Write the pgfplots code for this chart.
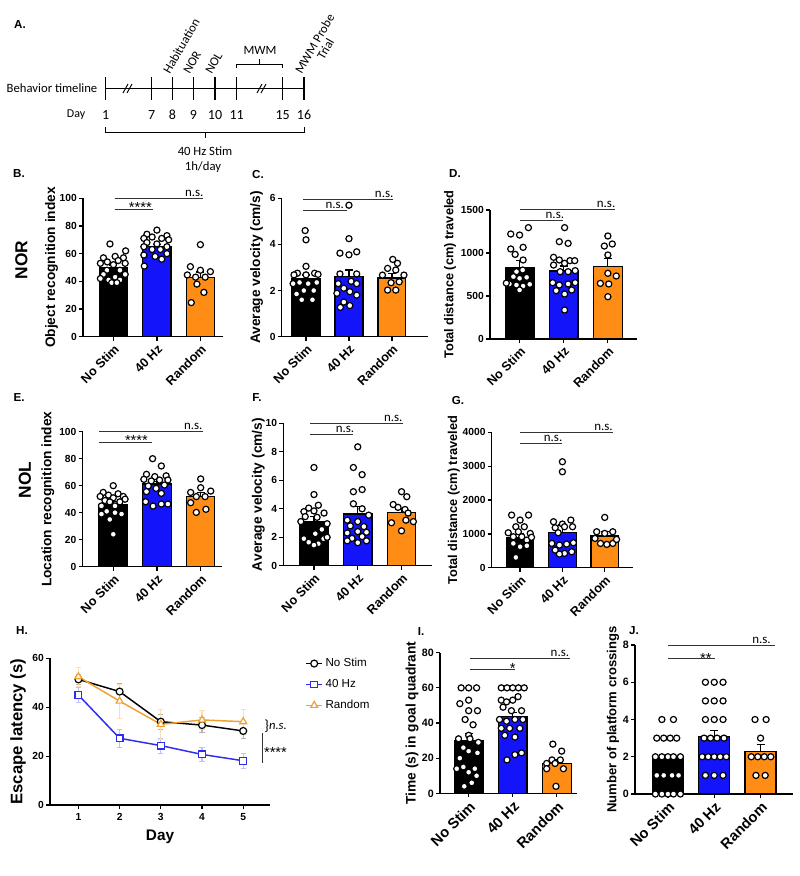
\documentclass[border=0pt]{standalone}
\usepackage{pgfplots}
\pgfplotsset{compat=1.18}
\usepackage{fontspec}
\setmainfont{Liberation Sans}
\newfontfamily\carlito{Carlito}
\definecolor{gblue}{RGB}{20,20,250}
\definecolor{gorange}{RGB}{255,140,20}
\definecolor{hblue}{RGB}{45,45,240}
\definecolor{horange}{RGB}{240,160,45}
\newcommand\nsfont{\carlito\fontsize{9.7}{10}\selectfont}
\newcommand\stfont{\fontsize{11}{12}\selectfont}
\tikzset{sig/.style={line width=0.6pt, black!80}}
\pgfplotsset{
  gp/.style={scale only axis, anchor=south west, clip=false,
    axis x line*=bottom, axis y line*=left,
    axis line style={-, line width=0.9pt, black},
    tick align=outside, major tick length=3pt,
    tick style={line width=0.9pt, black},
    ymin=0,
    /pgf/number format/assume math mode=true,
    /pgf/number format/1000 sep={},
    scaled y ticks=false,
    y tick label style={font=\bfseries\fontsize{7.7}{8}\selectfont, inner sep=1.5pt},
    ylabel style={font=\bfseries\fontsize{10.3}{11}\selectfont, anchor=center}},
  barax/.style={gp, xtick={0,1,2}, xticklabels={No Stim,40 Hz,Random},
    x tick label style={rotate=45, anchor=north east, font=\bfseries\fontsize{9.5}{10}\selectfont, inner sep=1.5pt}},
  gbar/.style={ybar, bar width=0.65, bar shift=0pt, draw=black, line width=0.9pt, fill=#1,
    error bars/y dir=plus, error bars/y explicit,
    error bars/error bar style={line width=0.9pt, black},
    error bars/error mark options={rotate=90, mark size=3pt, line width=0.9pt, black}},
  dots/.style={only marks, mark=*, mark size=2.3pt, mark options={fill=white, draw=black, line width=0.9pt}},
}
\begin{document}
\begin{tikzpicture}
\path[use as bounding box] (0,0) rectangle (600pt,-657pt);
% ---------------- panel A timeline and labels ----------------
\begin{scope}[x=0.75pt,y=-0.75pt]
\node[font=\bfseries\fontsize{8.7}{10}\selectfont] at (20,25) {A.};
\node[font=\bfseries\fontsize{8.7}{10}\selectfont] at (19,174) {B.};
\node[font=\bfseries\fontsize{8.7}{10}\selectfont] at (258,174) {C.};
\node[font=\bfseries\fontsize{8.7}{10}\selectfont] at (455,174) {D.};
\node[font=\bfseries\fontsize{8.7}{10}\selectfont] at (19,398) {E.};
\node[font=\bfseries\fontsize{8.7}{10}\selectfont] at (257,398) {F.};
\node[font=\bfseries\fontsize{8.7}{10}\selectfont] at (458,400) {G.};
\node[font=\bfseries\fontsize{8.7}{10}\selectfont] at (22,630) {H.};
\node[font=\bfseries\fontsize{8.7}{10}\selectfont] at (421,631) {I.};
\node[font=\bfseries\fontsize{8.7}{10}\selectfont] at (634,631) {J.};
\node[font=\bfseries\fontsize{13}{14}\selectfont, rotate=90] at (21.5,260) {NOR};
\node[font=\bfseries\fontsize{13}{14}\selectfont, rotate=90] at (25,480) {NOL};
\draw[line width=0.8pt] (105.7,88.3) -- (304,88.3);
\foreach \x in {105.7,151.7,172.3,193.3,215,236.7,282.7,304} \draw[line width=0.8pt] (\x,77) -- (\x,100);
\foreach \x in {128,262} {\draw[line width=0.7pt] (\x-5,93) -- (\x,84); \draw[line width=0.7pt] (\x-1,93) -- (\x+4,84);}
\node[anchor=east, font=\carlito\fontsize{9.5}{11}\selectfont] at (102,88.3) {Behavior timeline};
\node[anchor=east, font=\carlito\fontsize{9}{11}\selectfont] at (90,115) {Day};
\foreach \x/\d in {105.7/1,151.7/7,172.3/8,193.3/9,215/10,236.7/11,282.7/15,304/16}
  \node[font=\carlito\fontsize{10.5}{12}\selectfont] at (\x,115) {\d};
\draw[line width=0.7pt] (105.7,127) -- (105.7,132) -- (304,132) -- (304,127);
\draw[line width=0.7pt] (205,132) -- (205,138);
\node[font=\carlito\fontsize{9.5}{11}\selectfont] at (205,151) {40 Hz Stim};
\node[font=\carlito\fontsize{9.5}{11}\selectfont] at (203,167) {1h/day};
\draw[line width=0.7pt] (236.7,68) -- (236.7,64) -- (282.7,64) -- (282.7,68);
\draw[line width=0.7pt] (259.7,64) -- (259.7,59);
\node[font=\carlito\fontsize{9.5}{11}\selectfont] at (260,50) {MWM};
\node[rotate=60, anchor=south west, inner sep=0pt, font=\carlito\fontsize{9.5}{11}\selectfont] at (170,75) {Habituation};
\node[rotate=60, anchor=south west, inner sep=0pt, font=\carlito\fontsize{9.5}{11}\selectfont] at (190,75) {NOR};
\node[rotate=60, anchor=south west, inner sep=0pt, font=\carlito\fontsize{9.5}{11}\selectfont] at (212,75) {NOL};
\node[rotate=60, anchor=south west, inner sep=0pt, font=\carlito\fontsize{9.5}{11}\selectfont] at (302,75) {MWM Probe};
\node[rotate=60, anchor=south west, inner sep=0pt, font=\carlito\fontsize{9.5}{11}\selectfont] at (324,61) {Trial};
\end{scope}
% ---------------- B ----------------
\begin{axis}[barax, at={(62.25pt,-252.5pt)}, width=105pt, height=103.8pt,
  xmin=-0.70, xmax=2.52, ymax=100, ytick={0,20,...,100},
  ylabel={Object recognition index}, ylabel style={at={(axis description cs:-0.225,0.5)}}]
\addplot[gbar=black] coordinates {(0,50.1) +- (0,1.7)};
\addplot[gbar=gblue] coordinates {(1,65.0) +- (0,1.5)};
\addplot[gbar=gorange] coordinates {(2,42.7) +- (0,4.0)};
\addplot[dots] coordinates {(-0.08,67) (0.28,62) (-0.23,57) (0.04,58) (0.23,57) (-0.14,54) (0.11,55) (-0.3,53) (0,52) (0.27,53) (-0.15,48) (0.15,48) (-0.23,45) (0.04,43) (0.27,45) (-0.11,41) (0.15,41) (-0.04,39) (0.08,39) (-0.3,42)};
\addplot[dots] coordinates {(1.0,77) (0.77,74) (1.23,73) (0.89,72) (0.7,71) (1.11,71) (1.27,70) (0.77,68) (1.0,67) (0.7,65) (1.23,65) (0.89,63) (1.08,63) (0.7,59) (1.23,60) (0.96,58) (1.11,56) (0.71,51)};
\addplot[dots] coordinates {(2.0,66.5) (1.77,50.6) (2.0,48) (2.23,47) (1.7,44.6) (1.89,43) (2.11,43) (1.92,38) (2.08,32) (1.79,24.6)};
\draw[sig] (0.03,100) -- (2.07,100);
\node[font=\nsfont, anchor=south, inner sep=1pt] at (1.86,100) {n.s.};
\draw[sig] (0.03,92) -- (0.92,92);
\node[font=\stfont, anchor=base, inner sep=0pt] at (0.62,89.5) {****};
\end{axis}
% ---------------- C ----------------
\begin{axis}[barax, at={(211.3pt,-252.5pt)}, width=109.7pt, height=103.8pt,
  xmin=-0.565, xmax=2.84, ymax=6, ytick={0,2,4,6},
  ylabel={Average velocity (cm/s)}, ylabel style={at={(axis description cs:-0.171,0.5)}}]
\addplot[gbar=black] coordinates {(0,2.5) +- (0,0.17)};
\addplot[gbar=gblue] coordinates {(1,2.6) +- (0,0.29)};
\addplot[gbar=gorange] coordinates {(2,2.54) +- (0,0.2)};
\addplot[dots] coordinates {(-0.02,4.6) (0,4.2) (0,3.05) (-0.2,2.75) (0.2,2.75) (0,2.68) (-0.28,2.68) (0.28,2.7) (-0.15,2.35) (0.05,2.3) (0.25,2.35) (-0.3,2.3) (-0.05,2.0) (0.18,2.0) (-0.22,1.85) (-0.1,1.6) (0.15,1.6)};
\addplot[dots] coordinates {(1.0,5.7) (1.0,4.25) (0.79,3.62) (1.0,3.55) (1.18,3.68) (0.79,2.72) (1.18,2.72) (0.75,2.3) (1.05,2.4) (1.18,2.3) (0.88,2.1) (1.02,1.95) (0.72,1.88) (1.18,1.8) (0.88,1.5) (1.02,1.35) (0.8,1.27)};
\addplot[dots] coordinates {(2.02,3.35) (2.13,3.18) (1.9,2.96) (2.09,2.89) (2.28,2.67) (1.78,2.67) (1.98,2.34) (2.17,2.38) (1.9,2.02) (2.09,2.02)};
\draw[sig] (-0.06,5.97) -- (2.03,5.97);
\node[font=\nsfont, anchor=south, inner sep=1pt] at (1.82,5.97) {n.s.};
\draw[sig] (-0.06,5.49) -- (0.95,5.49);
\node[font=\nsfont, anchor=south, inner sep=1pt] at (0.67,5.49) {n.s.};
\end{axis}
% ---------------- D ----------------
\begin{axis}[barax, at={(367.5pt,-254.25pt)}, width=110.25pt, height=96.75pt,
  xmin=-0.67, xmax=2.66, ymax=1500, ytick={0,500,1000,1500},
  ylabel={Total distance (cm) traveled}, ylabel style={font=\bfseries\fontsize{9.6}{11}\selectfont, at={(axis description cs:-0.272,0.5)}}]
\addplot[gbar=black] coordinates {(0,833) +- (0,84)};
\addplot[gbar=gblue] coordinates {(1,791) +- (0,58)};
\addplot[gbar=gorange] coordinates {(2,841) +- (0,93)};
\addplot[dots] coordinates {(-0.2,1221) (0,1209) (0.2,1295) (-0.2,1047) (0.08,1066) (-0.1,984) (0.08,919) (-0.07,783) (0.07,802) (-0.14,725) (0,705) (0.16,717) (-0.23,640) (-0.07,628) (0.08,616) (0.23,636) (0,570) (-0.3,650)};
\addplot[dots] coordinates {(1.02,1295) (0.9,1132) (1.1,1112) (0.77,950) (0.9,919) (1.02,880) (1.14,911) (1.25,911) (0.77,860) (0.92,783) (1.1,783) (1.26,795) (0.75,655) (0.9,628) (1.1,640) (1.26,655) (0.83,562) (1.02,523) (1.18,570) (1.02,337)};
\addplot[dots] coordinates {(2.0,1198) (1.92,1081) (2.1,1105) (2.0,977) (2.0,764) (2.19,733) (1.83,647) (2.02,640) (2.0,492)};
\draw[sig] (0,1508) -- (2.16,1508);
\node[font=\nsfont, anchor=south, inner sep=1pt] at (1.96,1508) {n.s.};
\draw[sig] (0,1384) -- (0.98,1384);
\node[font=\nsfont, anchor=south, inner sep=1pt] at (0.8,1384) {n.s.};
\end{axis}
% ---------------- E ----------------
\begin{axis}[barax, at={(62pt,-425pt)}, width=104.25pt, height=101.25pt,
  xmin=-0.70, xmax=2.48, ymax=100, ytick={0,20,...,100},
  ylabel={Location recognition index}, ylabel style={at={(axis description cs:-0.25,0.5)}}]
\addplot[gbar=black] coordinates {(0,46.2) +- (0,1.8)};
\addplot[gbar=gblue] coordinates {(1,61.2) +- (0,2.0)};
\addplot[gbar=gorange] coordinates {(2,51.9) +- (0,3.0)};
\addplot[dots] coordinates {(0,60) (-0.23,55) (-0.11,53) (0.11,54) (0.23,52) (-0.3,52) (0,51) (-0.19,49) (0.15,48) (-0.08,48) (0.27,50) (-0.27,45) (0.04,45) (-0.15,41) (-0.27,39) (0.04,40) (0.19,39) (-0.08,35) (0,24)};
\addplot[dots] coordinates {(0.9,80) (1.1,74.6) (0.76,68.4) (0.95,66.7) (1.21,67.3) (0.7,64.7) (0.87,63.5) (1.06,64.2) (1.25,64.2) (0.8,59.8) (0.98,58) (1.17,60.5) (0.76,55.6) (1.1,54.3) (0.74,48.1) (0.91,44.9) (1.1,46.4) (1.25,46.4)};
\addplot[dots] coordinates {(2.0,65) (1.77,55) (2.0,58.5) (2.23,56) (1.9,51.9) (2.1,51.9) (1.77,47.4) (2.12,42.5) (1.9,40.2)};
\draw[sig] (-0.32,100) -- (2.05,100);
\node[font=\nsfont, anchor=south, inner sep=1pt] at (1.83,100) {n.s.};
\draw[sig] (-0.32,92.1) -- (0.88,92.1);
\node[font=\stfont, anchor=base, inner sep=0pt] at (0.53,89.5) {****};
\end{axis}
% ---------------- F ----------------
\begin{axis}[barax, at={(212.5pt,-424.3pt)}, width=111.3pt, height=106.8pt,
  xmin=-0.70, xmax=2.69, ymax=10, ytick={0,2,...,10},
  ylabel={Average velocity (cm/s)}, ylabel style={at={(axis description cs:-0.168,0.5)}}]
\addplot[gbar=black] coordinates {(0,3.09) +- (0,0.35)};
\addplot[gbar=gblue] coordinates {(1,3.63) +- (0,0.52)};
\addplot[gbar=gorange] coordinates {(2,3.72) +- (0,0.31)};
\addplot[dots] coordinates {(0,6.9) (0,5.0) (0.1,4.25) (-0.12,4.05) (-0.23,3.8) (0,3.85) (0.23,3.7) (-0.2,3.45) (0.07,3.4) (0.3,2.95) (-0.3,3.1) (0.18,2.55) (0.03,2.25) (-0.23,1.9) (0.22,1.9) (-0.12,1.65) (0.1,1.55) (0,1.45) (0.3,2.0)};
\addplot[dots] coordinates {(1.0,8.35) (0.9,6.9) (1.1,6.4) (0.9,5.2) (1.1,5.35) (0.9,4.35) (1.1,4.0) (1.25,3.55) (0.76,3.2) (1.0,3.1) (0.83,2.8) (1.14,2.75) (1.0,2.4) (0.76,2.3) (1.2,2.35) (0.87,1.92) (1.1,2.05) (0.76,1.75) (1.0,1.62) (1.2,1.75)};
\addplot[dots] coordinates {(2.0,5.2) (2.12,4.85) (1.81,4.3) (1.92,4.1) (2.08,3.95) (2.15,3.7) (1.77,3.02) (2.27,3.1) (2.0,2.45) (2.1,3.2)};
\draw[sig] (-0.09,10) -- (2.04,10);
\node[font=\nsfont, anchor=south, inner sep=1pt] at (1.81,10) {n.s.};
\draw[sig] (-0.09,9.25) -- (0.9,9.25);
\node[font=\nsfont, anchor=south, inner sep=1pt] at (0.71,9.25) {n.s.};
\end{axis}
% ---------------- G ----------------
\begin{axis}[barax, at={(368.8pt,-425.8pt)}, width=106pt, height=101.5pt,
  xmin=-0.67, xmax=2.67, ymax=4000, ytick={0,1000,...,4000},
  ylabel={Total distance (cm) traveled}, ylabel style={font=\bfseries\fontsize{9.6}{11}\selectfont, at={(axis description cs:-0.269,0.5)}}]
\addplot[gbar=black] coordinates {(0,897) +- (0,98)};
\addplot[gbar=gblue] coordinates {(1,1044) +- (0,217)};
\addplot[gbar=gorange] coordinates {(2,936) +- (0,128)};
\addplot[dots] coordinates {(-0.2,1557) (0,1409) (0.2,1557) (-0.1,1212) (0.1,1212) (-0.04,1064) (0.24,1015) (-0.28,1034) (-0.16,916) (0.04,916) (0.16,818) (-0.16,719) (0,621) (0.16,650) (-0.1,305) (0.27,900)};
\addplot[dots] coordinates {(1.0,3133) (1.0,2837) (0.79,1360) (1.0,1291) (1.2,1409) (0.83,1182) (1.05,1212) (1.24,1212) (0.9,1034) (0.75,719) (0.93,670) (1.1,699) (1.26,739) (0.83,522) (1.05,424) (1.22,473) (0.93,404)};
\addplot[dots] coordinates {(2.0,1488) (1.81,1064) (2.0,1015) (2.19,1064) (1.77,867) (1.9,719) (2.05,690) (2.19,719) (2.28,837)};
\draw[sig] (0,4000) -- (2.2,4000);
\node[font=\nsfont, anchor=south, inner sep=1pt] at (1.97,4000) {n.s.};
\draw[sig] (0,3675) -- (1.0,3675);
\node[font=\nsfont, anchor=south, inner sep=1pt] at (0.78,3675) {n.s.};
\end{axis}
% ---------------- H ----------------
\begin{axis}[gp, at={(37.5pt,-603.75pt)}, width=165pt, height=110pt,
  xmin=0.31, xmax=5.65, ymax=60, xtick={1,2,3,4,5}, ytick={0,20,40,60},
  x tick label style={font=\bfseries\fontsize{7.7}{8}\selectfont},
  xlabel={Day}, xlabel style={font=\bfseries\fontsize{11.5}{12}\selectfont, at={(axis description cs:0.5,-0.216)}, anchor=center},
  ylabel={Escape latency (s)}, ylabel style={font=\bfseries\fontsize{12.5}{13}\selectfont, at={(axis description cs:-0.145,0.5)}},
  legend style={at={(axis description cs:1.16,1.02)}, anchor=north west, draw=none, fill=none,
    font=\fontsize{8.7}{10}\selectfont, row sep=4pt, inner sep=0pt},
  legend cell align=left,
  legend image code/.code={\draw[mark repeat=2, mark phase=2] plot coordinates {(0pt,0pt) (6pt,0pt) (12pt,0pt)};}]
\addplot[black, line width=1.1pt, mark=*, mark size=2.6pt, mark options={fill=white, draw=black, line width=0.9pt},
  error bars/y dir=both, error bars/y explicit,
  error bars/error bar style={line width=0.8pt, black!30},
  error bars/error mark options={rotate=90, mark size=2pt, black!30}]
  coordinates {(1,51.4) +- (0,2) (2,46.4) +- (0,3.5) (3,34.1) +- (0,3) (4,32.7) +- (0,3) (5,30.3) +- (0,3)};
\addplot[hblue, line width=1.1pt, mark=square*, mark size=2.5pt, mark options={fill=white, draw=hblue, line width=0.9pt},
  error bars/y dir=both, error bars/y explicit,
  error bars/error bar style={line width=0.8pt, hblue!30},
  error bars/error mark options={rotate=90, mark size=2pt, hblue!30}]
  coordinates {(1,45.0) +- (0,3) (2,27.3) +- (0,3.5) (3,24.3) +- (0,3) (4,20.7) +- (0,3) (5,18.1) +- (0,3)};
\addplot[horange, line width=1.1pt, mark=triangle*, mark size=3pt, mark options={fill=white, draw=horange, line width=0.9pt},
  error bars/y dir=both, error bars/y explicit,
  error bars/error bar style={line width=0.8pt, horange!35},
  error bars/error mark options={rotate=90, mark size=2pt, horange!35}]
  coordinates {(1,52.5) +- (0,4) (2,42.5) +- (0,7) (3,33.0) +- (0,6) (4,34.8) +- (0,4) (5,34.1) +- (0,5)};
\legend{No Stim,40 Hz,Random}
\node[font=\carlito\fontsize{11}{12}\selectfont, inner sep=0pt] at (5.57,32.3) {\}};
\node[font=\carlito\itshape\fontsize{9.5}{11}\selectfont, anchor=west, inner sep=0pt] at (5.62,32.3) {n.s.};
\draw[line width=0.6pt, black!80] (5.46,29.5) -- (5.46,17.2);
\node[font=\stfont, anchor=west, inner sep=0pt] at (5.5,21.3) {****};
\end{axis}
% ---------------- I ----------------
\begin{axis}[barax, at={(330pt,-595pt)}, width=102.5pt, height=105.5pt,
  xmin=-0.65, xmax=2.45, ymax=80, ytick={0,20,...,80},
  x tick label style={font=\bfseries\fontsize{11}{12}\selectfont},
  y tick label style={font=\bfseries\fontsize{8}{9}\selectfont},
  ylabel={Time (s) in goal quadrant}, ylabel style={at={(axis description cs:-0.205,0.5)}}]
\addplot[gbar=black] coordinates {(0,30.0) +- (0,4.1)};
\addplot[gbar=gblue] coordinates {(1,43.6) +- (0,2.3)};
\addplot[gbar=gorange] coordinates {(2,17.1) +- (0,2.0)};
\addplot[dots] coordinates {(-0.17,60) (0,60) (0.18,60) (0,53) (-0.2,51) (0.2,47) (0,47) (-0.08,42) (0.1,39) (0,33) (0.03,31) (-0.23,31) (0.22,29) (-0.12,26) (0,24) (0.2,23) (-0.2,20) (-0.12,15) (-0.27,14) (0.14,14) (0,12) (0.18,10) (0.07,6) (-0.1,4)};
\addplot[dots] coordinates {(0.74,60) (0.87,60) (1.0,60) (1.13,60) (1.26,60) (1.12,55) (0.74,53) (1.0,53) (0.86,52) (0.78,49) (0.97,47) (1.2,47) (0.7,42) (0.86,41) (1.05,42) (1.23,42) (0.74,37) (0.93,37) (1.16,37) (0.82,33) (1.05,32) (1.2,23) (1.05,22) (0.87,19)};
\addplot[dots] coordinates {(1.91,28) (2.11,24) (1.89,19) (2.08,19) (1.77,17) (1.96,17) (2.15,14) (1.77,14) (1.98,4)};
\draw[sig] (0.03,76.8) -- (2.3,76.8);
\node[font=\nsfont, anchor=south, inner sep=1pt] at (2.07,76.8) {n.s.};
\draw[sig] (0.03,70.5) -- (1.05,70.5);
\node[font=\stfont, anchor=base, inner sep=0pt] at (1.0,68.4) {*};
\end{axis}
% ---------------- J ----------------
\begin{axis}[barax, at={(476.25pt,-595.5pt)}, width=118.5pt, height=111.75pt,
  xmin=-0.71, xmax=2.7, ymax=8, ytick={0,2,...,8},
  x tick label style={font=\bfseries\fontsize{11}{12}\selectfont},
  y tick label style={font=\bfseries\fontsize{8}{9}\selectfont},
  ylabel={Number of platform crossings}, ylabel style={font=\bfseries\fontsize{9.8}{11}\selectfont, at={(axis description cs:-0.139,0.5)}}]
\addplot[gbar=black, bar width=0.67] coordinates {(0,1.88) +- (0,0.17)};
\addplot[gbar=gblue, bar width=0.67] coordinates {(1,3.08) +- (0,0.32)};
\addplot[gbar=gorange, bar width=0.67] coordinates {(2,2.27) +- (0,0.4)};
\addplot[dots] coordinates {(-0.13,4) (0.12,4) (-0.24,3) (-0.09,3) (0.05,3) (0.19,3) (-0.27,2) (-0.13,2) (0,2) (0.12,2) (0.27,2) (-0.24,1) (-0.09,1) (0.09,1) (0.23,1) (-0.27,0) (-0.13,0) (0,0) (0.12,0) (0.27,0)};
\addplot[dots] coordinates {(0.81,6) (1.0,6) (1.19,6) (0.81,5) (1.0,5) (1.19,5) (0.81,4) (1.0,4) (1.19,4) (0.78,3) (0.92,3) (1.06,3) (1.21,3) (0.74,2) (0.87,2) (1.0,2) (1.13,2) (1.26,2) (0.81,1) (1.0,1) (1.19,1)};
\addplot[dots] coordinates {(1.88,4) (2.12,4) (2.0,3) (1.8,2) (1.94,2) (2.08,2) (2.22,2) (1.9,1) (2.1,1)};
\draw[sig] (0,8) -- (2.31,8);
\node[font=\nsfont, anchor=south, inner sep=1pt] at (2.02,8) {n.s.};
\draw[sig] (0,7.28) -- (1.01,7.28);
\node[font=\stfont, anchor=base, inner sep=0pt] at (0.82,7.0) {**};
\end{axis}
\end{tikzpicture}
\end{document}
